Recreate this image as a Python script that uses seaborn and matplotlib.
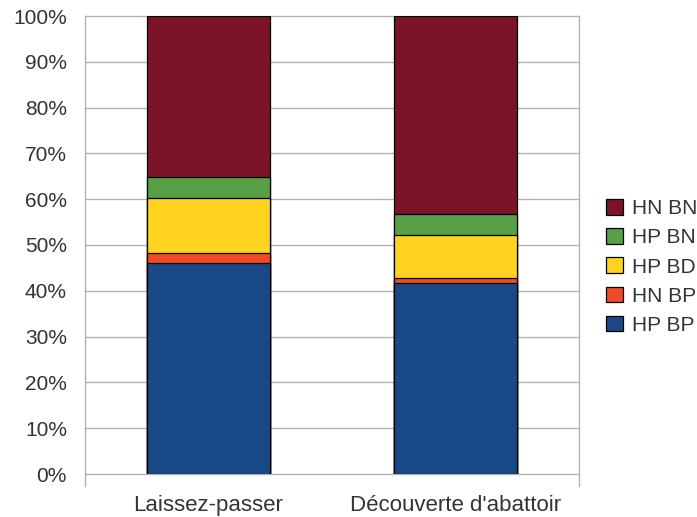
import matplotlib
matplotlib.use("Agg")
import matplotlib.pyplot as plt
from matplotlib.patches import Patch
import numpy as np
import pandas as pd
import seaborn as sns

categories = ["Laissez-passer", "Découverte d'abattoir"]
series = ["HP BP", "HN BP", "HP BD", "HP BN", "HN BN"]
hp_bp = [46.0, 41.7]
hn_bp = [2.25, 1.0]
hp_bd = [12.05, 9.5]
hp_bn = [4.5, 4.65]
hn_bn = [35.2, 43.15]
colors = ["#194a87", "#f04a25", "#ffd320", "#58a045", "#7b1426"]
yticks = [0, 10, 20, 30, 40, 50, 60, 70, 80, 90, 100]
ytick_labels = [f"{v}%" for v in yticks]

values = [hp_bp, hn_bp, hp_bd, hp_bn, hn_bn]
sns.set_theme(style="white")
plt.rcParams["font.family"] = ["Liberation Sans", "DejaVu Sans"]
fs = 15
text_c = "#333333"

fig = plt.figure(figsize=(6.97, 5.17), dpi=100)
ax = fig.add_axes([85 / 697, 1 - 474 / 517, (579 - 85) / 697, (474 - 16) / 517])

grid_c = "#b3b3b3"
for y in yticks:
    ax.axhline(y, color=grid_c, lw=1.0, zorder=0, clip_on=False)

# stacked bars: draw cumulative totals from the top segment down
cum = np.cumsum(np.array(values), axis=0)
for i in range(len(series) - 1, -1, -1):
    df = pd.DataFrame({"cat": categories, "val": cum[i]})
    sns.barplot(data=df, x="cat", y="val", color=colors[i], width=0.5,
                edgecolor="black", linewidth=0.9, saturation=1, ax=ax, zorder=2)

ax.set_xlim(-0.5, 1.5)
ax.set_ylim(0, 100)
ax.set_xlabel("")
ax.set_ylabel("")
ax.set_yticks(yticks)
ax.set_yticklabels(ytick_labels)
ax.set_xticks([0, 1])
ax.set_xticklabels(categories)
ax.set_xticks([-0.5, 0.5, 1.5], minor=True)
ax.tick_params(axis="x", which="major", length=0, pad=15, labelsize=16, labelcolor=text_c)
ax.tick_params(axis="x", which="minor", length=12, width=1, color=grid_c, direction="out")
ax.tick_params(axis="y", length=7, width=1, color=grid_c, direction="out", pad=6,
               labelsize=fs, labelcolor=text_c)

for s in ["top", "bottom"]:
    ax.spines[s].set_visible(False)
for s in ["left", "right"]:
    ax.spines[s].set_color(grid_c)
    ax.spines[s].set_linewidth(1)
    ax.spines[s].set_bounds(-2.6, 100)
    ax.spines[s].set_clip_on(False)

handles = [Patch(facecolor=colors[i], edgecolor="black", linewidth=0.9, label=series[i])
           for i in range(len(series) - 1, -1, -1)]
fig.legend(handles=handles, loc="center left", bbox_to_anchor=(600 / 697, 1 - 267 / 517),
           frameon=False, fontsize=fs, handlelength=0.78, handleheight=0.78,
           handletextpad=0.45, labelspacing=0.48, labelcolor=text_c,
           borderaxespad=0, borderpad=0.3)

fig.savefig("out.png", dpi=100)
